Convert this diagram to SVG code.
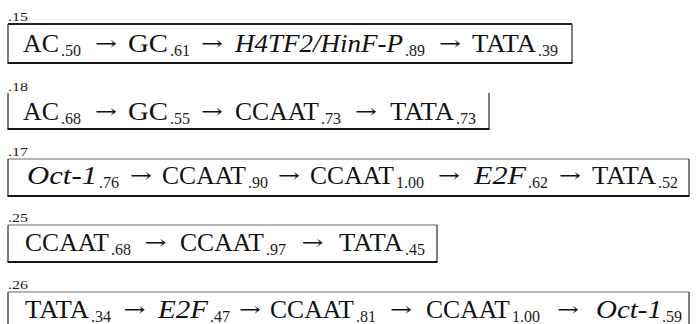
<svg xmlns="http://www.w3.org/2000/svg" width="697" height="324" viewBox="0 0 697 324">
  <style>
    .w { font-family: "Liberation Serif", "Times New Roman", serif; font-size: 25px; fill: #111; }
    .i { font-style: italic; }
    .s { font-family: "Liberation Serif", "Times New Roman", serif; font-size: 16px; fill: #1a1a1a; }
    .a { font-family: "DejaVu Serif", "Liberation Serif", serif; font-size: 20px; fill: #111; }
    .lab { font-family: "Liberation Serif", "Times New Roman", serif; font-size: 13px; fill: #222; }
    .side { stroke: #3a3a3a; stroke-width: 1.3; fill: none; }
    .bot { stroke: #151515; stroke-width: 2.2; fill: none; }
    .topd { stroke: #222; stroke-width: 2; fill: none; }
    .topl { stroke: #9a9a9a; stroke-width: 1.3; fill: none; }
  </style>

  <!-- chain 1 -->
  <g id="chain1">
    <text class="lab" x="8" y="21" textLength="20" lengthAdjust="spacingAndGlyphs">.15</text>
    <path class="topd" d="M8 24 H572"/>
    <path class="side" d="M8 24 V63 M572 24 V63"/>
    <path class="bot" d="M7.5 63 H572.5"/>
    <text class="w" x="23" y="52" textLength="36" lengthAdjust="spacingAndGlyphs">AC</text>
    <text class="s" x="61" y="56">.50</text>
    <text class="a" x="95" y="50" textLength="22" lengthAdjust="spacingAndGlyphs">→</text>
    <text class="w" x="128" y="52" textLength="40" lengthAdjust="spacingAndGlyphs">GC</text>
    <text class="s" x="170" y="56">.61</text>
    <text class="a" x="201" y="50" textLength="22" lengthAdjust="spacingAndGlyphs">→</text>
    <text class="w i" x="235" y="52" textLength="168" lengthAdjust="spacingAndGlyphs">H4TF2/HinF-P</text>
    <text class="s" x="405" y="56">.89</text>
    <text class="a" x="439" y="50" textLength="22" lengthAdjust="spacingAndGlyphs">→</text>
    <text class="w" x="472" y="52" textLength="64" lengthAdjust="spacingAndGlyphs">TATA</text>
    <text class="s" x="538" y="56">.39</text>
  </g>

  <!-- chain 2 (open at the top) -->
  <g id="chain2">
    <text class="lab" x="8" y="91" textLength="20" lengthAdjust="spacingAndGlyphs">.18</text>
    <path class="side" d="M8 93 V129 M489 93 V129"/>
    <path class="bot" d="M7.5 129 H489.5"/>
    <text class="w" x="23" y="120" textLength="36" lengthAdjust="spacingAndGlyphs">AC</text>
    <text class="s" x="61" y="124">.68</text>
    <text class="a" x="95" y="118" textLength="22" lengthAdjust="spacingAndGlyphs">→</text>
    <text class="w" x="128" y="120" textLength="40" lengthAdjust="spacingAndGlyphs">GC</text>
    <text class="s" x="170" y="124">.55</text>
    <text class="a" x="201" y="118" textLength="22" lengthAdjust="spacingAndGlyphs">→</text>
    <text class="w" x="235" y="120" textLength="84" lengthAdjust="spacingAndGlyphs">CCAAT</text>
    <text class="s" x="321" y="124">.73</text>
    <text class="a" x="355" y="118" textLength="22" lengthAdjust="spacingAndGlyphs">→</text>
    <text class="w" x="390" y="120" textLength="64" lengthAdjust="spacingAndGlyphs">TATA</text>
    <text class="s" x="456" y="124">.73</text>
  </g>

  <!-- chain 3 -->
  <g id="chain3">
    <text class="lab" x="8" y="156" textLength="20" lengthAdjust="spacingAndGlyphs">.17</text>
    <path class="topl" d="M8 159 H689"/>
    <path class="side" d="M8 159 V196 M689 159 V196"/>
    <path class="bot" d="M7.5 196 H689.5"/>
    <text class="w i" x="27" y="184" textLength="70" lengthAdjust="spacingAndGlyphs">Oct-1</text>
    <text class="s" x="99" y="188">.76</text>
    <text class="a" x="130" y="182" textLength="22" lengthAdjust="spacingAndGlyphs">→</text>
    <text class="w" x="162" y="184" textLength="84" lengthAdjust="spacingAndGlyphs">CCAAT</text>
    <text class="s" x="248" y="188">.90</text>
    <text class="a" x="278" y="182" textLength="22" lengthAdjust="spacingAndGlyphs">→</text>
    <text class="w" x="310" y="184" textLength="84" lengthAdjust="spacingAndGlyphs">CCAAT</text>
    <text class="s" x="396" y="188">1.00</text>
    <text class="a" x="438" y="182" textLength="22" lengthAdjust="spacingAndGlyphs">→</text>
    <text class="w i" x="474" y="184" textLength="52" lengthAdjust="spacingAndGlyphs">E2F</text>
    <text class="s" x="528" y="188">.62</text>
    <text class="a" x="559" y="182" textLength="22" lengthAdjust="spacingAndGlyphs">→</text>
    <text class="w" x="592" y="184" textLength="64" lengthAdjust="spacingAndGlyphs">TATA</text>
    <text class="s" x="658" y="188">.52</text>
  </g>

  <!-- chain 4 -->
  <g id="chain4">
    <text class="lab" x="8" y="222" textLength="20" lengthAdjust="spacingAndGlyphs">.25</text>
    <path class="topl" d="M8 225 H437"/>
    <path class="side" d="M8 225 V262 M437 225 V262"/>
    <path class="bot" d="M7.5 262 H437.5"/>
    <text class="w" x="25" y="251" textLength="84" lengthAdjust="spacingAndGlyphs">CCAAT</text>
    <text class="s" x="111" y="255">.68</text>
    <text class="a" x="144.5" y="249" textLength="22" lengthAdjust="spacingAndGlyphs">→</text>
    <text class="w" x="180" y="251" textLength="84" lengthAdjust="spacingAndGlyphs">CCAAT</text>
    <text class="s" x="266" y="255">.97</text>
    <text class="a" x="301.5" y="249" textLength="22" lengthAdjust="spacingAndGlyphs">→</text>
    <text class="w" x="339" y="251" textLength="64" lengthAdjust="spacingAndGlyphs">TATA</text>
    <text class="s" x="405" y="255">.45</text>
  </g>

  <!-- chain 5 (runs past the lower edge) -->
  <g id="chain5">
    <text class="lab" x="8" y="289" textLength="20" lengthAdjust="spacingAndGlyphs">.26</text>
    <path class="topl" d="M8 292 H689"/>
    <path class="side" d="M8 292 V330 M689 292 V330"/>
    <text class="w" x="25" y="318" textLength="64" lengthAdjust="spacingAndGlyphs">TATA</text>
    <text class="s" x="91" y="322">.34</text>
    <text class="a" x="123.5" y="316" textLength="22" lengthAdjust="spacingAndGlyphs">→</text>
    <text class="w i" x="158" y="318" textLength="50" lengthAdjust="spacingAndGlyphs">E2F</text>
    <text class="s" x="210" y="322">.47</text>
    <text class="a" x="239" y="316" textLength="22" lengthAdjust="spacingAndGlyphs">→</text>
    <text class="w" x="270" y="318" textLength="84" lengthAdjust="spacingAndGlyphs">CCAAT</text>
    <text class="s" x="356" y="322">.81</text>
    <text class="a" x="390" y="316" textLength="22" lengthAdjust="spacingAndGlyphs">→</text>
    <text class="w" x="426" y="318" textLength="84" lengthAdjust="spacingAndGlyphs">CCAAT</text>
    <text class="s" x="512" y="322">1.00</text>
    <text class="a" x="557" y="316" textLength="22" lengthAdjust="spacingAndGlyphs">→</text>
    <text class="w i" x="596" y="318" textLength="66" lengthAdjust="spacingAndGlyphs">Oct-1</text>
    <text class="s" x="662" y="322">.59</text>
  </g>
</svg>
